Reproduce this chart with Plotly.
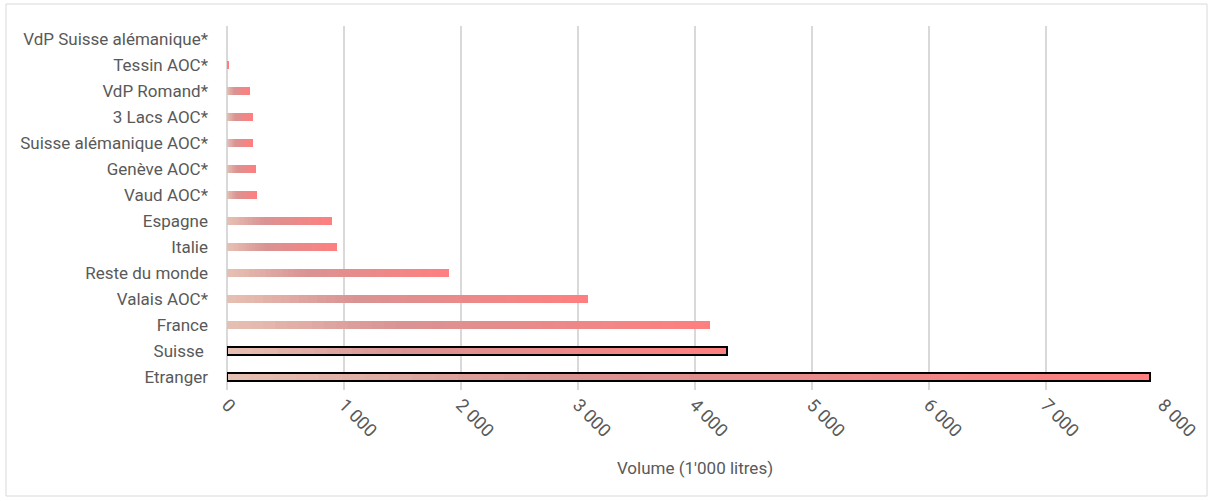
import plotly.graph_objects as go

# ---- data (bottom to top) ----
categories = ["Etranger", "Suisse ", "France", "Valais AOC*", "Reste du monde", "Italie",
              "Espagne", "Vaud AOC*", "Genève AOC*", "Suisse alémanique AOC*", "3 Lacs AOC*",
              "VdP Romand*", "Tessin AOC*", "VdP Suisse alémanique*"]
volumes = [7890, 4270, 4130, 3085, 1900, 940, 900, 255, 247, 215, 215, 190, 13, 0]
outlined = ["Etranger", "Suisse "]
tick_vals = [0, 1000, 2000, 3000, 4000, 5000, 6000, 7000, 8000]
tick_text = ["0", "1 000", "2 000", "3 000", "4 000", "5 000", "6 000", "7 000", "8 000"]
x_title = "Volume (1'000 litres)"

# gradient stops (position, rgb)
grad_stops = [(0.0, (231, 193, 180)), (0.35, (217, 147, 147)), (1.0, (255, 127, 127))]
N_SEG = 40

def grad_color(t):
    for (p0, c0), (p1, c1) in zip(grad_stops[:-1], grad_stops[1:]):
        if p0 <= t <= p1:
            f = (t - p0) / (p1 - p0)
            c = [round(a + (b - a) * f) for a, b in zip(c0, c1)]
            return f"rgb({c[0]},{c[1]},{c[2]})"
    c = grad_stops[-1][1]
    return f"rgb({c[0]},{c[1]},{c[2]})"

FONT = "Roboto, sans-serif"
GREY = "#595959"

fig = go.Figure()
for i in range(N_SEG):
    t = (i + 0.5) / N_SEG
    fig.add_trace(go.Bar(
        y=categories, x=[v / N_SEG for v in volumes], orientation="h",
        marker=dict(color=grad_color(t), line=dict(width=0)),
        showlegend=False, hoverinfo="skip"))

out_vals = [volumes[categories.index(c)] for c in outlined]
fig.add_trace(go.Bar(
    y=outlined, x=out_vals, orientation="h", yaxis="y2",
    marker=dict(color="rgba(0,0,0,0)", line=dict(color="black", width=2)),
    showlegend=False, hoverinfo="skip"))

W, H = 1211, 501
L, R, T, B = 227, 48, 26, 111
pw, ph = W - L - R, H - T - B

def px_x(p):
    return (p - L) / pw

def px_y(p):
    return (H - B - p) / ph

fig.update_layout(
    width=W, height=H,
    margin=dict(l=L, r=R, t=T, b=B),
    barmode="stack", bargap=0.67,
    paper_bgcolor="white", plot_bgcolor="white",
    font=dict(family=FONT, color=GREY, size=17),
    xaxis=dict(range=[0, 8000], tickvals=tick_vals, ticktext=tick_text, tickangle=45,
               showgrid=True, gridcolor="#d9d9d9", gridwidth=2,
               zeroline=True, zerolinecolor="#d9d9d9", zerolinewidth=2,
               showline=False, ticks="", tickfont=dict(size=18, color=GREY),
               automargin=False,
               title=dict(text=x_title, font=dict(size=17, color=GREY), standoff=22)),
    yaxis=dict(type="category", categoryorder="array", categoryarray=categories,
               range=[-0.5, len(categories) - 0.5], showgrid=False, showline=False,
               automargin=False,
               ticks="", ticklabelstandoff=18, tickfont=dict(size=17, color=GREY)),
    yaxis2=dict(type="category", categoryorder="array", categoryarray=categories,
                range=[-0.5, len(categories) - 0.5], overlaying="y", visible=False),
    shapes=[dict(type="rect", xref="paper", yref="paper",
                 x0=px_x(6), x1=px_x(1207), y0=px_y(496), y1=px_y(4),
                 line=dict(color="#d9d9d9", width=1), fillcolor="rgba(0,0,0,0)", layer="below")],
)

fig.write_html("out.html", config={"displayModeBar": False},
               post_script="document.body.style.margin='0';document.body.style.padding='0';")
